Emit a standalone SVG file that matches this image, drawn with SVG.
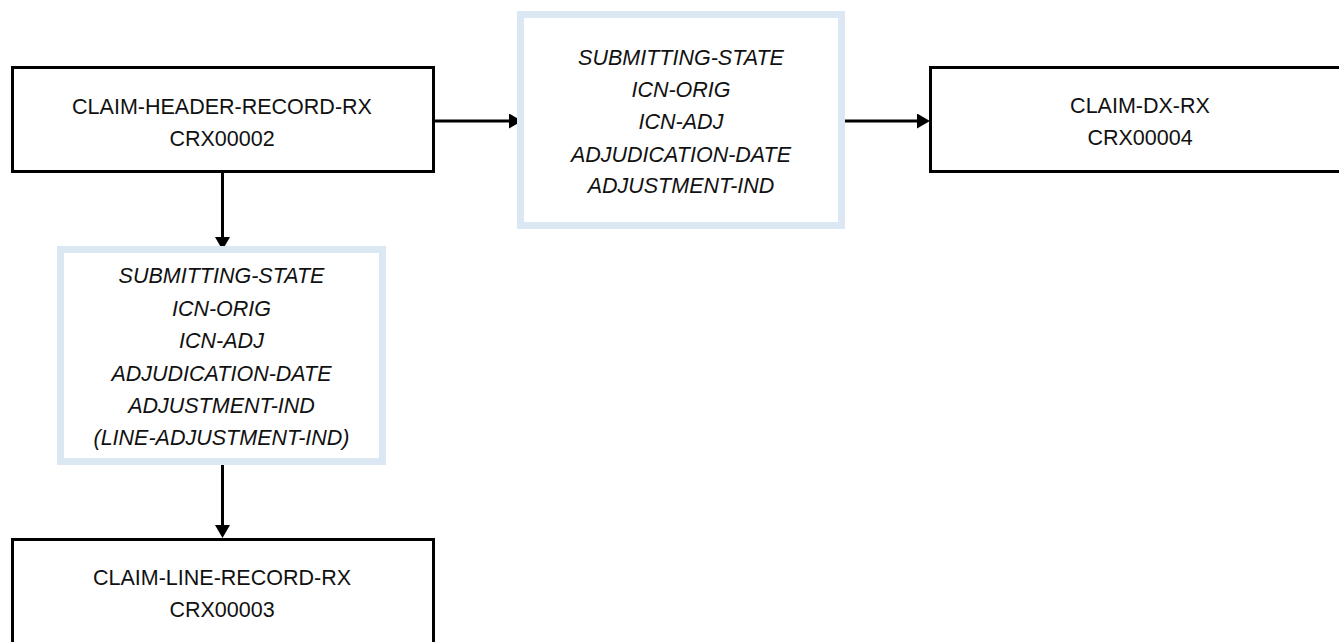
<svg xmlns="http://www.w3.org/2000/svg" width="1339" height="642" viewBox="0 0 1339 642">
  <style>
    .box { fill: #ffffff; stroke: #000000; stroke-width: 3; }
    .attr { fill: #ffffff; stroke: #DCE7F4; stroke-width: 7; }
    .t { font-family: "Liberation Sans", Arial, sans-serif; font-size: 21.5px; fill: #111111; text-anchor: middle; }
    .i { font-style: italic; }
    .conn { stroke: #000000; stroke-width: 3; fill: none; }
  </style>
  <defs>
    <marker id="arrow" markerUnits="userSpaceOnUse" markerWidth="13" markerHeight="15" refX="0" refY="7.5" orient="auto" viewBox="0 0 13 15">
      <path d="M0,0 L13,7.5 L0,15 z" fill="#000000"/>
    </marker>
  </defs>
  <rect width="1339" height="642" fill="#ffffff"/>

  <g id="connectors">
    <line class="conn" x1="435" y1="121" x2="509" y2="121" marker-end="url(#arrow)"/>
    <line class="conn" x1="845" y1="121" x2="917" y2="121" marker-end="url(#arrow)"/>
    <line class="conn" x1="222.5" y1="173" x2="222.5" y2="237" marker-end="url(#arrow)"/>
    <line class="conn" x1="222.5" y1="465" x2="222.5" y2="525" marker-end="url(#arrow)"/>
  </g>

  <g id="claim-header-record-rx">
    <rect class="box" x="12.5" y="67.5" width="421" height="104"/>
    <text class="t" x="222" y="114">CLAIM-HEADER-RECORD-RX</text>
    <text class="t" x="222" y="146">CRX00002</text>
  </g>

  <g id="join-keys-top">
    <rect class="attr" x="520.5" y="14.5" width="321" height="211"/>
    <text class="t i" x="681" y="65">SUBMITTING-STATE</text>
    <text class="t i" x="681" y="97">ICN-ORIG</text>
    <text class="t i" x="681" y="129">ICN-ADJ</text>
    <text class="t i" x="681" y="162">ADJUDICATION-DATE</text>
    <text class="t i" x="681" y="193">ADJUSTMENT-IND</text>
  </g>

  <g id="claim-dx-rx">
    <rect class="box" x="930.5" y="67.5" width="421" height="104"/>
    <text class="t" x="1140" y="113">CLAIM-DX-RX</text>
    <text class="t" x="1140" y="145">CRX00004</text>
  </g>

  <g id="join-keys-left">
    <rect class="attr" x="60.5" y="249.5" width="322" height="212"/>
    <text class="t i" x="221.5" y="283">SUBMITTING-STATE</text>
    <text class="t i" x="221.5" y="316">ICN-ORIG</text>
    <text class="t i" x="221.5" y="348">ICN-ADJ</text>
    <text class="t i" x="221.5" y="381">ADJUDICATION-DATE</text>
    <text class="t i" x="221.5" y="413">ADJUSTMENT-IND</text>
    <text class="t i" x="221.5" y="445">(LINE-ADJUSTMENT-IND)</text>
  </g>

  <g id="claim-line-record-rx">
    <rect class="box" x="12.5" y="539.5" width="421" height="104"/>
    <text class="t" x="222" y="585">CLAIM-LINE-RECORD-RX</text>
    <text class="t" x="222" y="617">CRX00003</text>
  </g>
</svg>
